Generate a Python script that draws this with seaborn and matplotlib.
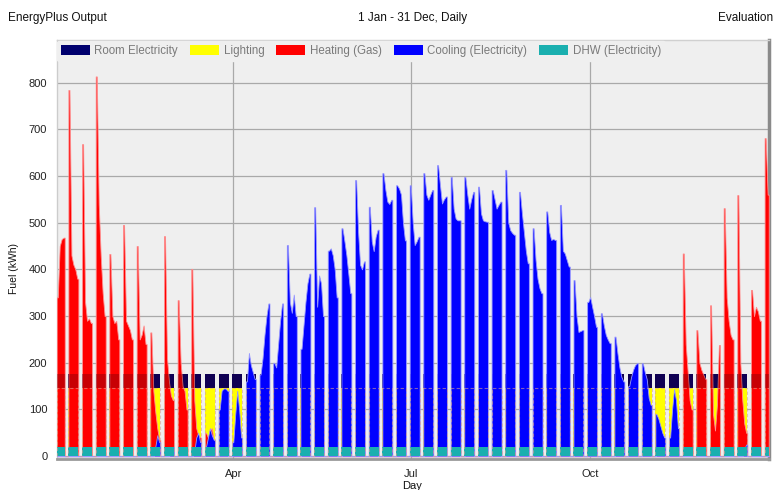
import numpy as np
import pandas as pd
import matplotlib
matplotlib.use("Agg")
import matplotlib.pyplot as plt
from matplotlib.patches import Patch
import seaborn as sns

# ---------------- data ----------------
series_names = ["Room Electricity", "Lighting", "Heating (Gas)",
                "Cooling (Electricity)", "DHW (Electricity)"]
series_colors = ["#00006e", "#ffff00", "#ff0000", "#0000ff", "#1aafaf"]
series_edges = ["none", "none", "#ff9090", "#9a9aff", "none"]

month_labels = ["Apr", "Jul", "Oct"]
month_start_day = [90, 181, 273]
y_ticks = [0, 100, 200, 300, 400, 500, 600, 700, 800]

n_days = 365
jan1_weekday = 1            # Monday = 0, so 1 Jan is a Tuesday

room_weekday_kwh = 177
lighting_weekday_kwh = 145
dhw_weekday_kwh = 19

# weekday values (Mon..Fri) for each working week, in order of the year
heating_weeks = [
    [340, 450, 465, 468],
    [784, 430, 410, 400, 380],
    [668, 330, 290, 295, 285],
    [813, 540, 430, 350, 300],
    [433, 300, 285, 290, 250],
    [495, 290, 280, 270, 250],
    [450, 250, 260, 280, 240],
    [265, 140, 95, 60, 35],
    [471, 210, 160, 130, 120],
    [334, 200, 150, 140, 100],
    [401, 120, 60, 45, 40],
    [50, 40, 55, 60, 30],
    [0, 0, 0, 0, 0], [0, 0, 0, 0, 0], [0, 0, 0, 0, 0], [0, 0, 0, 0, 0],
    [0, 0, 0, 0, 0], [0, 0, 0, 0, 0], [0, 0, 0, 0, 0], [0, 0, 0, 0, 0],
    [0, 0, 0, 0, 0], [0, 0, 0, 0, 0], [0, 0, 0, 0, 0], [0, 0, 0, 0, 0],
    [0, 0, 0, 0, 0], [0, 0, 0, 0, 0], [0, 0, 0, 0, 0], [0, 0, 0, 0, 0],
    [0, 0, 0, 0, 0], [0, 0, 0, 0, 0], [0, 0, 0, 0, 0], [0, 0, 0, 0, 0],
    [0, 0, 0, 0, 0], [0, 0, 0, 0, 0], [0, 0, 0, 0, 0], [0, 0, 0, 0, 0],
    [0, 0, 0, 0, 0], [0, 0, 0, 0, 0], [0, 0, 0, 0, 0], [0, 0, 0, 0, 0],
    [0, 0, 0, 0, 0], [0, 0, 0, 0, 0], [0, 0, 0, 0, 0], [0, 0, 0, 0, 0],
    [0, 0, 0, 0, 0], [0, 0, 0, 0, 0],
    [434, 240, 180, 120, 100],
    [270, 200, 185, 175, 165],
    [323, 90, 55, 110, 238],
    [531, 340, 290, 260, 250],
    [559, 200, 120, 70, 50],
    [356, 300, 320, 310, 290],
    [681, 560],
]

cooling_weeks = [
    [0, 0, 0, 0],
    [0, 0, 0, 0, 0], [0, 0, 0, 0, 0], [0, 0, 0, 0, 0], [0, 0, 0, 0, 0],
    [0, 0, 0, 0, 0], [0, 0, 0, 0, 0],
    [0, 0, 20, 45, 30],
    [0, 0, 0, 10, 20],
    [0, 0, 0, 0, 0],
    [0, 10, 40, 50, 30],
    [20, 40, 60, 45, 35],
    [100, 140, 145, 145, 140],
    [30, 90, 140, 100, 40],
    [160, 221, 195, 180, 165],
    [175, 210, 260, 300, 327],
    [200, 190, 240, 290, 327],
    [452, 330, 307, 346, 300],
    [230, 280, 330, 370, 391],
    [533, 320, 387, 370, 300],
    [440, 445, 430, 400, 340],
    [488, 460, 430, 390, 349],
    [591, 480, 410, 400, 417],
    [534, 460, 439, 470, 485],
    [606, 570, 545, 540, 549],
    [580, 573, 560, 500, 462],
    [580, 500, 452, 460, 470],
    [606, 560, 549, 560, 570],
    [623, 580, 541, 550, 556],
    [598, 530, 509, 505, 505],
    [598, 560, 530, 550, 566],
    [577, 520, 505, 503, 502],
    [570, 550, 530, 538, 545],
    [613, 500, 484, 478, 474],
    [566, 520, 480, 440, 413],
    [488, 420, 380, 360, 349],
    [524, 480, 463, 465, 463],
    [538, 440, 434, 420, 406],
    [377, 300, 266, 268, 270],
    [330, 341, 320, 300, 277],
    [306, 280, 260, 250, 242],
    [256, 220, 190, 170, 160],
    [150, 170, 185, 195, 199],
    [199, 180, 165, 125, 110],
    [90, 80, 65, 50, 40],
    [40, 100, 144, 120, 60],
    [0, 0, 0, 0, 0], [0, 0, 0, 0, 0], [0, 0, 0, 0, 0], [0, 0, 0, 0, 0],
    [0, 0, 0, 15, 25],
    [0, 0, 0, 0, 0],
    [0, 0],
]

# ---------------- build the daily table ----------------
day = np.arange(n_days)
weekday = (day + jan1_weekday) % 7
working = weekday < 5

runs = []
start = None
for d in day:
    if working[d] and start is None:
        start = d
    if start is not None and (not working[d] or d == n_days - 1):
        end = d if working[d] else d - 1
        runs.append((start, end))
        start = None

heat = np.zeros(n_days)
cool = np.zeros(n_days)
for (a, b), hv, cv in zip(runs, heating_weeks, cooling_weeks):
    heat[a:b + 1] = hv
    cool[a:b + 1] = cv

df = pd.DataFrame({
    "day": day,
    "Room Electricity": np.where(working, room_weekday_kwh, 0),
    "Lighting": np.where(working, lighting_weekday_kwh, 0),
    "Heating (Gas)": heat,
    "Cooling (Electricity)": cool,
    "DHW (Electricity)": np.where(working, dhw_weekday_kwh, 0),
})

EDGE = 0.56   # half-width of a day block at the start / end of a working week


def outline(values):
    xs, ys = [], []
    for a, b in runs:
        v = values[a:b + 1]
        xs += [a - EDGE, a - EDGE] + list(range(a, b + 1)) + [b + EDGE, b + EDGE]
        ys += [0, v[0]] + list(v) + [v[-1], 0]
    return np.array(xs, float), np.array(ys, float)


# ---------------- figure ----------------
sns.set_style("whitegrid")
plt.rcParams["font.family"] = ["Liberation Sans", "DejaVu Sans"]

W, H = 775, 490
fig = plt.figure(figsize=(W / 100, H / 100), dpi=100)
fig.patch.set_facecolor("white")
ax = fig.add_axes([57 / W, 1 - 459 / H, (769 - 57) / W, (459 - 40) / H])
ax.set_facecolor("#efefef")

z = 2
for name, color, edge in zip(series_names, series_colors, series_edges):
    xs, ys = outline(df[name].to_numpy())
    if edge == "none":
        ax.fill_between(xs, 0, ys, color=color, linewidth=0, zorder=z)
    else:
        ax.fill_between(xs, 0, ys, facecolor=color, edgecolor=edge,
                        linewidth=0.6, zorder=z)
    z += 1
    if name == "Heating (Gas)":
        # room electricity shows through the heating as a darker band
        lx, ly = outline(df["Lighting"].to_numpy())
        rx, ry = outline(df["Room Electricity"].to_numpy())
        ax.fill_between(rx, ly, ry, where=ry > 0, color="#3a0010",
                        alpha=0.28, linewidth=0, zorder=z)
        z += 1

# faint outline of the lighting level
lx, ly = outline(df["Lighting"].to_numpy())
sns.lineplot(x=lx, y=ly, sort=False, estimator=None, ax=ax, color="#d9a090",
             linewidth=0.8, alpha=0.6, linestyle=(0, (3, 2)), zorder=z)

ax.set_xlim(-0.4, 364.7)
ax.set_ylim(-6, 891)
ax.set_xticks(month_start_day)
ax.set_xticklabels(month_labels)
ax.set_yticks(y_ticks)
ax.set_yticklabels([str(t) for t in y_ticks])
ax.grid(True, color="#a9a9a9", linewidth=0.9)
ax.set_axisbelow(True)
ax.tick_params(axis="both", labelsize=8, colors="#222222", length=4, width=0.8,
               pad=3)
ax.tick_params(axis="both", color="#999999")
ax.set_xlabel("")
ax.set_ylabel("")

for side, col, lw in [("left", "#cccccc", 1.0), ("top", "#d0d0d0", 1.0),
                      ("bottom", "#999999", 2.0), ("right", "#8a8a8a", 2.5)]:
    ax.spines[side].set_visible(True)
    ax.spines[side].set_color(col)
    ax.spines[side].set_linewidth(lw)

handles = [Patch(facecolor=c, edgecolor="none") for c in series_colors]
leg = ax.legend(handles, series_names, loc="upper left", ncol=5,
                bbox_to_anchor=(57 / W, 1 - 41 / H), bbox_transform=fig.transFigure,
                borderaxespad=0, frameon=True, facecolor="#efefef",
                edgecolor="#efefef", framealpha=1, fontsize=8.3,
                handlelength=2.5, handleheight=1.0, handletextpad=0.4,
                columnspacing=1.05, borderpad=0.35)
for t in leg.get_texts():
    t.set_color("#7a7a7a")
leg.set_zorder(20)

fig.text(8 / W, 1 - 18 / H, "EnergyPlus Output", ha="left", va="center",
         fontsize=8.5, color="#111111")
fig.text(413 / W, 1 - 18 / H, "1 Jan - 31 Dec, Daily", ha="center",
         va="center", fontsize=8.5, color="#111111")
fig.text(773 / W, 1 - 18 / H, "Evaluation", ha="right", va="center",
         fontsize=8.5, color="#111111")
fig.text(14 / W, 1 - 268 / H, "Fuel (kWh)", rotation=90, ha="center",
         va="center", fontsize=7.5, color="#111111")
fig.text(412 / W, 1 - 481 / H, "Day", ha="center", va="top", fontsize=8,
         color="#111111")

fig.savefig("out.png", dpi=100, facecolor="white")
